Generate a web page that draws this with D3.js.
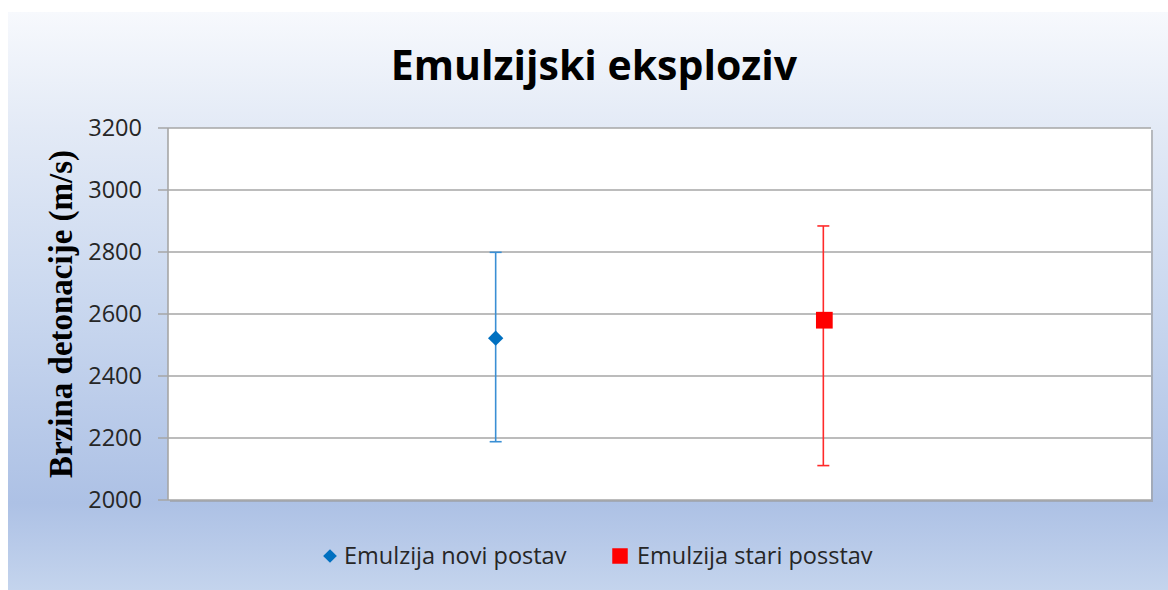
<!DOCTYPE html>
<html>
<head>
<meta charset="utf-8">
<script src="https://cdn.jsdelivr.net/npm/d3@7.9.0/dist/d3.min.js"></script>
<style>
  body { margin: 0; background: #fff; }
  svg { display: block; }
</style>
</head>
<body>
<svg id="chart" width="1168" height="590"></svg>
<script>
// data
const series = ['Emulzija novi postav', 'Emulzija stari posstav'];
const means = [2522, 2580];
const upper = [2799, 2884];
const lower = [2188, 2111];
const colors = ['#0070c0', '#ff0000'];
const barColors = ['#3a8fd4', '#ff2a2a'];
const yTicks = [2000, 2200, 2400, 2600, 2800, 3000, 3200];

const svg = d3.select('#chart');
const W = 1168, H = 590;
const plot = { left: 168, right: 1151, top: 128, bottom: 500 };

// background gradient
const defs = svg.append('defs');
const grad = defs.append('linearGradient')
  .attr('id', 'bg').attr('x1', 0).attr('y1', 0).attr('x2', 0).attr('y2', 1);
[[0, '#f7f9fd'], [0.2, '#e3eaf6'], [0.5, '#cad8ef'], [0.85, '#adc1e5'], [1, '#c4d4ed']]
  .forEach(([o, c]) => grad.append('stop').attr('offset', o).attr('stop-color', c));

svg.append('rect')
  .attr('x', 8).attr('y', 12).attr('width', W - 8).attr('height', H - 12)
  .attr('fill', 'url(#bg)');

// plot area with a soft shadow
svg.append('rect')
  .attr('x', plot.left + 2).attr('y', plot.top + 2)
  .attr('width', plot.right - plot.left).attr('height', plot.bottom - plot.top)
  .attr('fill', '#9a9a9a').attr('opacity', 0.6);
svg.append('rect')
  .attr('x', plot.left).attr('y', plot.top)
  .attr('width', plot.right - plot.left).attr('height', plot.bottom - plot.top)
  .attr('fill', '#fff');

const x = d3.scaleLinear().domain([0, 3]).range([plot.left, plot.right]);
const y = d3.scaleLinear().domain([2000, 3200]).range([plot.bottom, plot.top]);

// gridlines
svg.append('g')
  .selectAll('line')
  .data(yTicks)
  .join('line')
  .attr('x1', plot.left - 10).attr('x2', plot.right)
  .attr('y1', d => y(d)).attr('y2', d => y(d))
  .attr('stroke', '#a6a6a6').attr('stroke-width', 1.6);

// y axis line
svg.append('line')
  .attr('x1', plot.left).attr('x2', plot.left)
  .attr('y1', plot.top).attr('y2', plot.bottom)
  .attr('stroke', '#a6a6a6').attr('stroke-width', 1.6);

// tick labels
svg.append('g')
  .selectAll('text')
  .data(yTicks)
  .join('text')
  .attr('x', 142).attr('y', d => y(d))
  .attr('dy', '0.36em')
  .attr('text-anchor', 'end')
  .attr('font-family', 'Open Sans, sans-serif')
  .attr('font-size', 23.5)
  .attr('fill', '#262626')
  .text(d => d);

// error bars
const idx = d3.range(series.length);
const capW = 6;
const bars = svg.append('g');
idx.forEach(i => {
  const cx = x(i + 1);
  bars.append('line')
    .attr('x1', cx).attr('x2', cx).attr('y1', y(upper[i])).attr('y2', y(lower[i]))
    .attr('stroke', barColors[i]).attr('stroke-width', 1.6);
  [upper[i], lower[i]].forEach(v => bars.append('line')
    .attr('x1', cx - capW).attr('x2', cx + capW).attr('y1', y(v)).attr('y2', y(v))
    .attr('stroke', barColors[i]).attr('stroke-width', 1.6));
});

// markers
const diamond = d3.symbol().type(d3.symbolDiamond2).size(150);
const square = d3.symbol().type(d3.symbolSquare).size(280);
idx.forEach(i => {
  svg.append('path')
    .attr('d', i === 0 ? diamond() : square())
    .attr('transform', `translate(${x(i + 1) + (i === 0 ? 0 : 1)},${y(means[i])})`)
    .attr('fill', colors[i]);
});

// title
svg.append('text')
  .attr('x', 594).attr('y', 80)
  .attr('text-anchor', 'middle')
  .attr('font-family', 'Open Sans, sans-serif')
  .attr('font-weight', 'bold')
  .attr('font-size', 41)
  .attr('fill', '#000')
  .text('Emulzijski eksploziv');

// y axis title
svg.append('text')
  .attr('transform', 'translate(72,314) rotate(-90)')
  .attr('text-anchor', 'middle')
  .attr('font-family', 'Liberation Serif, serif')
  .attr('font-weight', 'bold')
  .attr('font-size', 33)
  .attr('fill', '#000')
  .text('Brzina detonacije (m/s)');

// legend
const legendX = [322, 612];
const legend = svg.append('g');
idx.forEach(i => {
  const lx = legendX[i];
  legend.append('path')
    .attr('d', i === 0 ? d3.symbol().type(d3.symbolDiamond2).size(120)() : d3.symbol().type(d3.symbolSquare).size(240)())
    .attr('transform', `translate(${lx + 8},556)`)
    .attr('fill', colors[i]);
  legend.append('text')
    .attr('x', lx + (i === 0 ? 22 : 25)).attr('y', 556)
    .attr('dy', '0.36em')
    .attr('font-family', 'Open Sans, sans-serif')
    .attr('font-size', 23.5)
    .attr('fill', '#262626')
    .text(series[i]);
});
</script>
</body>
</html>
